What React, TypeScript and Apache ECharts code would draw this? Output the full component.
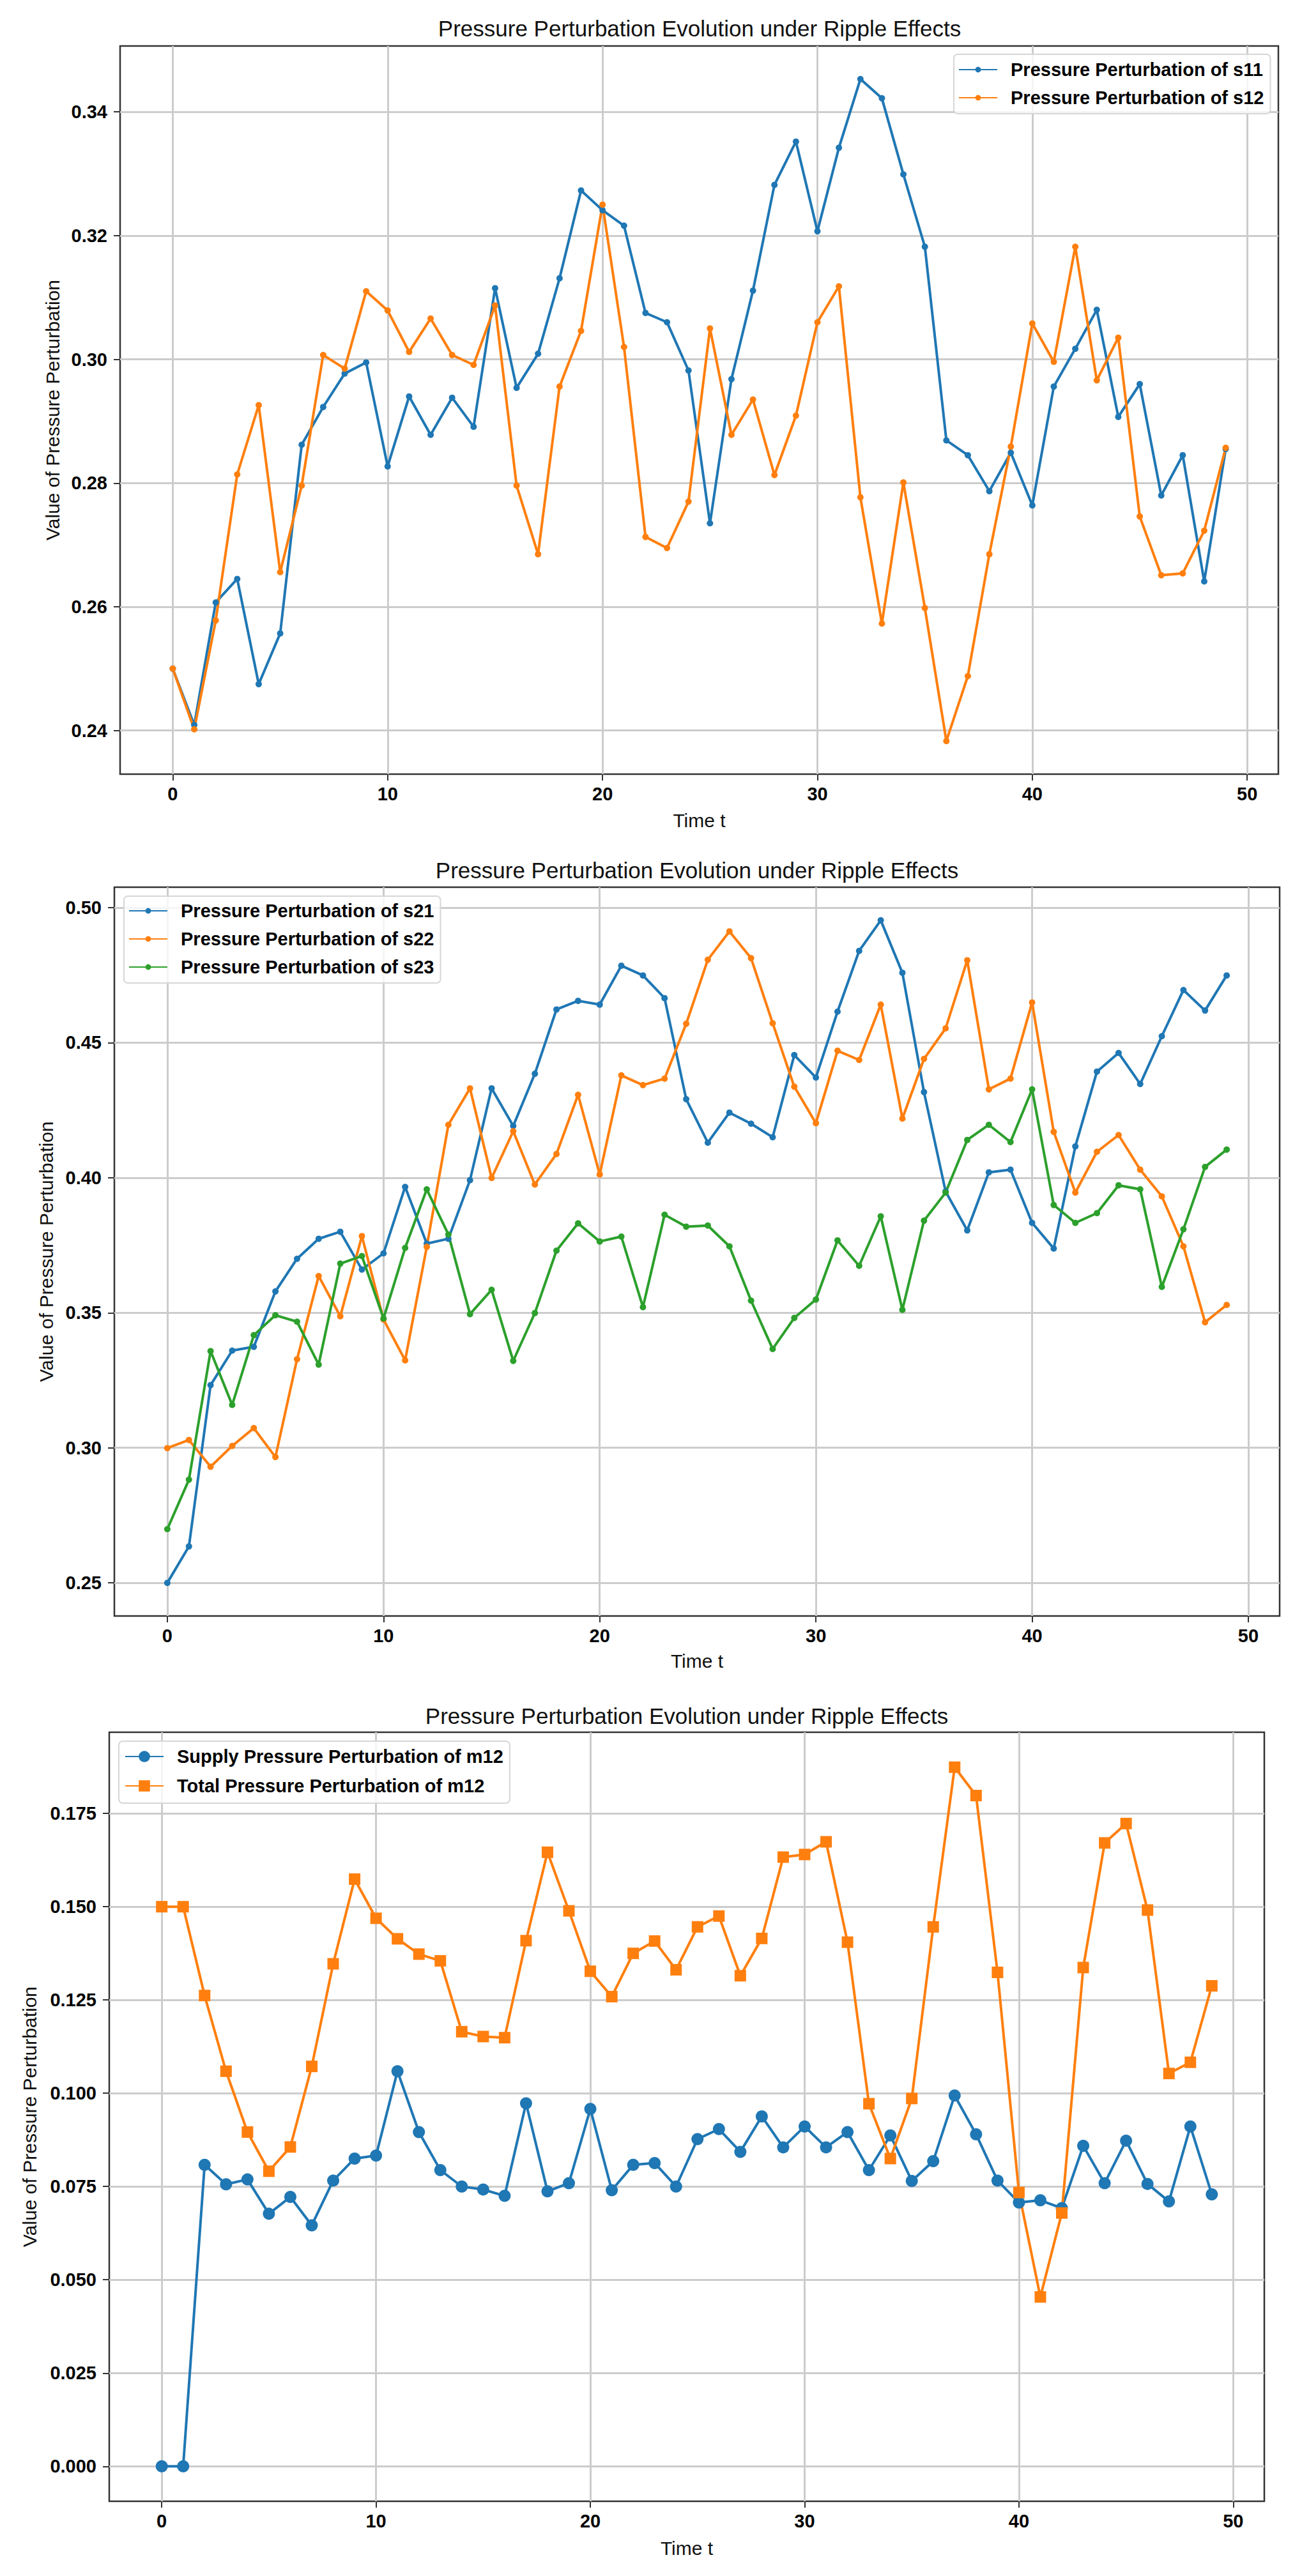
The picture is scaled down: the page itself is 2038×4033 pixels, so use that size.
import React, { useEffect, useRef } from "react";
import * as echarts from "echarts";

const timeSteps = [0,1,2,3,4,5,6,7,8,9,10,11,12,13,14,15,16,17,18,19,20,21,22,23,24,25,26,27,28,29,30,31,32,33,34,35,36,37,38,39,40,41,42,43,44,45,46,47,48,49];

const s11 = [0.250,0.2409,0.2607,0.2645,0.2475,0.2557,0.2862,0.2923,0.2977,0.2995,0.2827,0.2940,0.2878,0.2938,0.2891,0.3115,0.2954,0.3009,0.3131,0.3273,0.3241,0.3216,0.3075,0.3060,0.2982,0.2735,0.2968,0.3111,0.3282,0.3352,0.3207,0.3342,0.3453,0.3422,0.3299,0.3182,0.2869,0.2845,0.2787,0.2849,0.2764,0.2956,0.3017,0.3080,0.2907,0.2960,0.2780,0.2845,0.2641,0.2855];
const s12 = [0.250,0.2402,0.2578,0.2814,0.2926,0.2656,0.2796,0.3007,0.2985,0.3110,0.3079,0.3012,0.3066,0.3007,0.2991,0.3087,0.2796,0.2685,0.2956,0.3046,0.3250,0.3020,0.2713,0.2695,0.2770,0.3050,0.2878,0.2935,0.2813,0.2909,0.3060,0.3118,0.2777,0.2573,0.2801,0.2598,0.2383,0.2488,0.2685,0.2859,0.3058,0.2996,0.3182,0.2966,0.3035,0.2746,0.2651,0.2654,0.2723,0.2857];

const s21 = [0.250,0.2635,0.3232,0.3360,0.3374,0.3579,0.3700,0.3774,0.3800,0.3660,0.3720,0.3966,0.3756,0.3774,0.3991,0.4331,0.4192,0.4385,0.4623,0.4655,0.4641,0.4785,0.4749,0.4665,0.4291,0.4130,0.4241,0.4200,0.4150,0.4454,0.4371,0.4615,0.4840,0.4953,0.4759,0.4317,0.3949,0.3805,0.4020,0.4030,0.3833,0.3738,0.4116,0.4393,0.4462,0.4347,0.4524,0.4695,0.4619,0.4749];
const s22 = [0.2999,0.3029,0.2930,0.3007,0.3073,0.2966,0.3328,0.3636,0.3487,0.3784,0.3475,0.3324,0.3744,0.4196,0.4331,0.3999,0.4172,0.3975,0.4088,0.4307,0.4012,0.4379,0.4343,0.4367,0.4570,0.4807,0.4912,0.4813,0.4572,0.4337,0.4202,0.4470,0.4436,0.4641,0.4219,0.4440,0.4553,0.4805,0.4327,0.4367,0.4649,0.4170,0.3945,0.4096,0.4158,0.4030,0.3931,0.3746,0.3465,0.3529];
const s23 = [0.2699,0.2882,0.3358,0.3159,0.3417,0.3491,0.3467,0.3308,0.3682,0.3710,0.3479,0.3740,0.3957,0.3790,0.3495,0.3585,0.3322,0.3499,0.3730,0.3831,0.3764,0.3782,0.3521,0.3863,0.3819,0.3823,0.3746,0.3545,0.3366,0.3481,0.3549,0.3768,0.3674,0.3857,0.3511,0.3841,0.3945,0.4140,0.4196,0.4132,0.4327,0.3899,0.3833,0.3869,0.3972,0.3957,0.3596,0.3809,0.4040,0.4104];

const supplyM12 = [0,0,0.0808,0.0756,0.0769,0.0677,0.0722,0.0646,0.0766,0.0825,0.0833,0.1059,0.0896,0.0794,0.0750,0.0742,0.0725,0.0973,0.0737,0.0759,0.0958,0.0740,0.0808,0.0813,0.0750,0.0877,0.0904,0.0843,0.0938,0.0855,0.0911,0.0855,0.0896,0.0794,0.0887,0.0765,0.0818,0.0994,0.0890,0.0766,0.0707,0.0713,0.0692,0.0859,0.0759,0.0873,0.0757,0.0710,0.0911,0.0729];
const totalM12 = [0.1500,0.1500,0.1262,0.1059,0.0896,0.0791,0.0856,0.1072,0.1347,0.1574,0.1469,0.1414,0.1373,0.1355,0.1165,0.1152,0.1149,0.1409,0.1646,0.1489,0.1327,0.1259,0.1375,0.1408,0.1331,0.1446,0.1475,0.1315,0.1415,0.1633,0.1640,0.1674,0.1405,0.0972,0.0825,0.0986,0.1446,0.1874,0.1798,0.1324,0.0734,0.0454,0.0679,0.1337,0.1671,0.1723,0.1491,0.1053,0.1083,0.1288];

const xTicks = [0, 10, 20, 30, 40, 50];
const yTicks1 = [0.24, 0.26, 0.28, 0.30, 0.32, 0.34];
const yTicks2 = [0.25, 0.30, 0.35, 0.40, 0.45, 0.50];
const yTicks3 = [0, 0.025, 0.05, 0.075, 0.1, 0.125, 0.15, 0.175];

const TITLE = "Pressure Perturbation Evolution under Ripple Effects";
const X_NAME = "Time t";
const Y_NAME = "Value of Pressure Perturbation";

const BLUE = "#1f77b4";
const ORANGE = "#ff7f0e";
const GREEN = "#2ca02c";
const FONT = "'Liberation Sans', Arial, sans-serif";

function pad(values: number[][]): [number, number] {
  let lo = Infinity, hi = -Infinity;
  values.forEach((arr) => arr.forEach((v) => { lo = Math.min(lo, v); hi = Math.max(hi, v); }));
  const m = (hi - lo) * 0.05;
  return [lo - m, hi + m];
}

function pairs(vals: number[]) {
  return vals.map((v, i) => [timeSteps[i], v]);
}

export default function App() {
  const ref = useRef<HTMLDivElement>(null);
  useEffect(() => {
    if (!ref.current) return;
    const chart = echarts.init(ref.current, undefined, { renderer: "svg" });
    const xr = pad([timeSteps]);
    const y1 = pad([s11, s12]);
    const y2 = pad([s21, s22, s23]);
    const y3 = pad([supplyM12, totalM12]);

    const grids = [
      { left: 188, top: 72, width: 1813, height: 1140 },
      { left: 179, top: 1389, width: 1824, height: 1141 },
      { left: 171, top: 2712, width: 1808, height: 1204 },
    ].map((g) => ({ ...g, show: true, borderColor: "#333333", borderWidth: 2.5, backgroundColor: "transparent", containLabel: false }));

    const xNameGaps = [57, 55, 58];
    const yNameGaps = [91, 92, 110];
    const yRanges = [y1, y2, y3];
    const yTicks = [yTicks1, yTicks2, yTicks3];
    const yDigits = [2, 2, 3];

    const xAxis = [0, 1, 2].map((i) => ({
      type: "value",
      gridIndex: i,
      min: xr[0],
      max: xr[1],
      name: X_NAME,
      nameLocation: "middle",
      nameGap: xNameGaps[i],
      nameTextStyle: { fontFamily: FONT, fontSize: 30, color: "#111" },
      axisLine: { show: false, onZero: false },
      axisTick: { show: true, length: 10, customValues: xTicks, lineStyle: { color: "#333333", width: 2 } },
      axisLabel: { customValues: xTicks, margin: 16, fontFamily: FONT, fontSize: 29, fontWeight: "bold", color: "#000", formatter: (v: number) => String(v) },
      splitLine: { show: true, lineStyle: { color: "#cccccc", width: 3 } },
    }));

    const yAxis = [0, 1, 2].map((i) => ({
      type: "value",
      gridIndex: i,
      min: yRanges[i][0],
      max: yRanges[i][1],
      name: Y_NAME,
      nameLocation: "middle",
      nameGap: yNameGaps[i],
      nameTextStyle: { fontFamily: FONT, fontSize: 30, color: "#111" },
      axisLine: { show: false, onZero: false },
      axisTick: { show: true, length: 10, customValues: yTicks[i], lineStyle: { color: "#333333", width: 2 } },
      axisLabel: { customValues: yTicks[i], margin: 20, fontFamily: FONT, fontSize: 29, fontWeight: "bold", color: "#000", formatter: (v: number) => v.toFixed(yDigits[i]) },
      splitLine: { show: true, lineStyle: { color: "#cccccc", width: 3 } },
    }));

    const line = (name: string, vals: number[], color: string, gi: number, symbol: string, size: number) => ({
      type: "line",
      name,
      xAxisIndex: gi,
      yAxisIndex: gi,
      data: pairs(vals),
      symbol,
      symbolSize: size,
      showSymbol: true,
      lineStyle: { color, width: 4 },
      itemStyle: { color },
      emphasis: { disabled: true },
      silent: true,
    });

    const legendBase = {
      orient: "vertical",
      itemWidth: 60,
      itemGap: 14,
      selectedMode: false,
      backgroundColor: "rgba(255,255,255,0.8)",
      borderColor: "#d6d6d6",
      borderWidth: 2,
      borderRadius: 6,
      textStyle: { fontFamily: FONT, fontSize: 29, fontWeight: "bold", color: "#000", lineHeight: 30, padding: [0, 0, 0, 16] },
    };

    const titleText = (x: number, y: number) => ({
      type: "text",
      x,
      y,
      style: { text: TITLE, font: `35px ${FONT}`, fill: "#111", align: "center", verticalAlign: "middle" },
    });

    chart.setOption({
      animation: false,
      backgroundColor: "#ffffff",
      grid: grids,
      xAxis,
      yAxis,
      legend: [
        { ...legendBase, data: ["Pressure Perturbation of s11", "Pressure Perturbation of s12"], left: 1493, top: 85, itemHeight: 11, padding: [9, 10, 10, 7] },
        { ...legendBase, data: ["Pressure Perturbation of s21", "Pressure Perturbation of s22", "Pressure Perturbation of s23"], left: 194, top: 1403, itemHeight: 11, padding: [8, 10, 10, 7] },
        { ...legendBase, data: ["Supply Pressure Perturbation of m12", "Total Pressure Perturbation of m12"], left: 186, top: 2726, itemHeight: 22, itemGap: 16, padding: [9, 10, 12, 9] },
      ],
      graphic: [titleText(1095, 44), titleText(1091, 1362), titleText(1075, 2686)],
      series: [
        line("Pressure Perturbation of s11", s11, BLUE, 0, "circle", 10),
        line("Pressure Perturbation of s12", s12, ORANGE, 0, "circle", 10),
        line("Pressure Perturbation of s21", s21, BLUE, 1, "circle", 10),
        line("Pressure Perturbation of s22", s22, ORANGE, 1, "circle", 10),
        line("Pressure Perturbation of s23", s23, GREEN, 1, "circle", 10),
        line("Supply Pressure Perturbation of m12", supplyM12, BLUE, 2, "circle", 19),
        line("Total Pressure Perturbation of m12", totalM12, ORANGE, 2, "rect", 18),
      ],
    });
    return () => chart.dispose();
  }, []);
  return <div ref={ref} style={{ position: "absolute", left: 0, top: 0, width: 2038, height: 4033, background: "#fff" }} />;
}
